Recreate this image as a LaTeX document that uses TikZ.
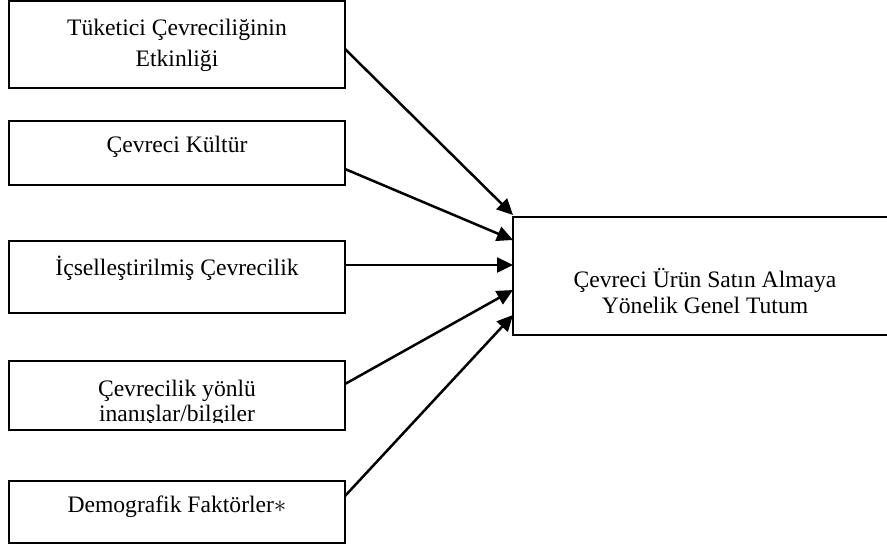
\documentclass[tikz,border=0pt]{standalone}
\usepackage{fontspec}
\setmainfont{Liberation Serif}
\usetikzlibrary{arrows.meta}
\begin{document}
\begin{tikzpicture}[x=1pt,y=-1pt,
  box/.style={draw=black, line width=2pt, rectangle, anchor=north west, inner sep=0pt, outer sep=0pt},
  lbl/.style={anchor=base, inner sep=0pt, font=\fontsize{23.6}{28}\selectfont},
  conn/.style={line width=2.5pt, -{Triangle[length=16pt,width=15pt]}}]
\useasboundingbox (0,0) rectangle (887,547);
% boxes
\node[box, minimum width=336pt, minimum height=87pt] (b1) at (9,1) {};
\node[box, minimum width=336pt, minimum height=64pt] (b2) at (9,121) {};
\node[box, minimum width=336pt, minimum height=72pt] (b3) at (9,241) {};
\node[box, minimum width=336pt, minimum height=69pt] (b4) at (9,361) {};
\node[box, minimum width=336pt, minimum height=62pt] (b5) at (9,481) {};
\node[box, minimum width=384pt, minimum height=118pt] (r) at (513,217) {};
% texts
\node[lbl] (t1a) at (177,35) {Tüketici Çevreciliğinin};
\node[lbl] (t1b) at (177,66) {Etkinliği};
\node[lbl] (t2) at (177,152) {Çevreci Kültür};
\node[lbl] (t3) at (177,275) {İçselleştirilmiş Çevrecilik};
\begin{scope}
\clip (9,361) rectangle (345,422.5);
\node[lbl] (t4a) at (177,396) {Çevrecilik yönlü};
\node[lbl] (t4b) at (177,421) {inanışlar/bilgiler};
\end{scope}
\node[lbl] (t5) at (177,512) {Demografik Faktörler$\ast$};
\node[lbl] (tra) at (705,287) {Çevreci Ürün Satın Almaya};
\node[lbl] (trb) at (705,313) {Yönelik Genel Tutum};
% connector end points
\coordinate (s1) at (b1.east |- {(0,49)});
\coordinate (s2) at (b2.east |- {(0,169)});
\coordinate (s3) at (b3.east |- {(0,265)});
\coordinate (s4) at (b4.east |- {(0,384)});
\coordinate (s5) at (b5.east |- {(0,496)});
\coordinate (e1) at (r.west |- {(0,215)});
\coordinate (e2) at (r.west |- {(0,240)});
\coordinate (e3) at (r.west |- {(0,265)});
\coordinate (e4) at (r.west |- {(0,290)});
\coordinate (e5) at (r.west |- {(0,315)});
\draw[conn] (s1) -- (e1);
\draw[conn] (s2) -- (e2);
\draw[conn] (s3) -- (e3);
\draw[conn] (s4) -- (e4);
\draw[conn] (s5) -- (e5);
\end{tikzpicture}
\end{document}
